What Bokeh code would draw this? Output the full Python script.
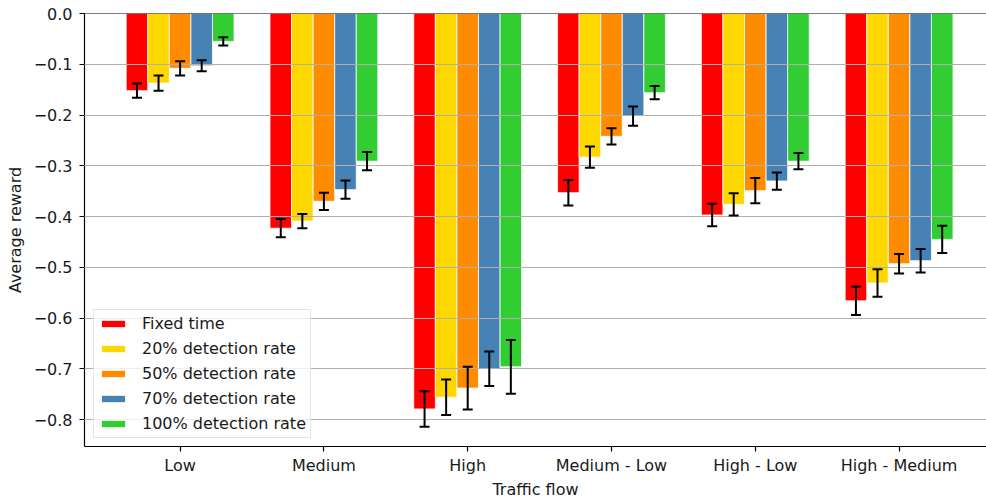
from bokeh.plotting import figure
from bokeh.models import (ColumnDataSource, Range1d, FixedTicker, CustomJSTickFormatter,
                          Whisker, TeeHead, Span, Legend, LegendItem)
from bokeh.embed import file_html
from bokeh.resources import INLINE

# Traffic-flow scenarios on the x axis
categories = ["Low", "Medium", "High", "Medium - Low", "High - Low", "High - Medium"]

# Controllers compared in each scenario
series_names = ["Fixed time", "20% detection rate", "50% detection rate",
                "70% detection rate", "100% detection rate"]
series_colors = ["#ff0000", "#ffd700", "#ff8c00", "#4682b4", "#32cd32"]

# Mean reward and its spread per controller
fixed_time = [-0.152, -0.423, -0.779, -0.353, -0.397, -0.566]
fixed_time_err = [0.014, 0.018, 0.035, 0.025, 0.022, 0.028]
det20 = [-0.137, -0.409, -0.756, -0.283, -0.376, -0.531]
det20_err = [0.015, 0.014, 0.035, 0.021, 0.022, 0.027]
det50 = [-0.108, -0.370, -0.738, -0.242, -0.349, -0.493]
det50_err = [0.014, 0.017, 0.042, 0.016, 0.025, 0.019]
det70 = [-0.103, -0.347, -0.700, -0.202, -0.330, -0.487]
det70_err = [0.011, 0.018, 0.034, 0.019, 0.017, 0.023]
det100 = [-0.055, -0.291, -0.696, -0.156, -0.291, -0.445]
det100_err = [0.008, 0.018, 0.053, 0.013, 0.016, 0.027]

y_ticks = [0.0, -0.1, -0.2, -0.3, -0.4, -0.5, -0.6, -0.7, -0.8]

means = [fixed_time, det20, det50, det70, det100]
errs = [fixed_time_err, det20_err, det50_err, det70_err, det100_err]

FONT = "DejaVu Sans"
BAR_W = 0.15

p = figure(width=986, height=501, output_backend="svg", toolbar_location=None,
           x_range=Range1d(-0.665, 5.608), y_range=Range1d(-0.853, 0.0),
           min_border_left=84, min_border_right=0, min_border_top=13,
           min_border_bottom=55)
p.background_fill_color = "white"
p.border_fill_color = "white"
p.outline_line_color = None

# horizontal grid drawn over the bars
p.xgrid.visible = False
p.ygrid.grid_line_color = "#b0b0b0"
p.ygrid.grid_line_width = 1.1
p.ygrid.level = "guide"

legend_items = []
for i, (name, color, vals, err) in enumerate(zip(series_names, series_colors, means, errs)):
    xs = [k + (i - 2) * BAR_W for k in range(len(categories))]
    src = ColumnDataSource(dict(
        x=xs, top=vals,
        upper=[v + e for v, e in zip(vals, err)],
        lower=[v - e for v, e in zip(vals, err)],
    ))
    r = p.vbar(x="x", top="top", bottom=0, width=BAR_W, source=src,
               fill_color=color, line_color="white", line_width=0.8)
    legend_items.append(LegendItem(label=name, renderers=[r]))
    w = Whisker(source=src, base="x", upper="upper", lower="lower",
                line_color="black", line_width=2,
                upper_head=TeeHead(size=10, line_color="black", line_width=2),
                lower_head=TeeHead(size=10, line_color="black", line_width=2),
                level="annotation")
    p.add_layout(w)

# top spine
p.add_layout(Span(location=0, dimension="width", line_color="black", line_width=1.2))

# x axis
xa = p.xaxis[0]
xa.ticker = FixedTicker(ticks=list(range(len(categories))))
xa.major_label_overrides = {k: c for k, c in enumerate(categories)}
xa.axis_label = "Traffic flow"
# y axis
ya = p.yaxis[0]
ya.ticker = FixedTicker(ticks=y_ticks)
ya.formatter = CustomJSTickFormatter(code="return tick.toFixed(1).replace('-', '\u2212');")
ya.axis_label = "Average reward"

for ax in (xa, ya):
    ax.axis_line_color = "black"
    ax.axis_line_width = 1.2
    ax.major_tick_line_color = "black"
    ax.major_tick_line_width = 1.2
    ax.major_tick_out = 5
    ax.major_tick_in = 0
    ax.minor_tick_line_color = None
    ax.major_label_text_font = FONT
    ax.major_label_text_font_size = "16px"
    ax.major_label_text_color = "#1a1a1a"
    ax.axis_label_text_font = FONT
    ax.axis_label_text_font_size = "16px"
    ax.axis_label_text_font_style = "normal"
    ax.axis_label_text_color = "#1a1a1a"

xa.major_label_standoff = 4
xa.axis_label_standoff = 2
ya.major_label_standoff = 7
ya.axis_label_standoff = 6

legend = Legend(items=legend_items, location=(9, 8), margin=0,
                padding=4, spacing=6, label_height=15, glyph_height=9,
                glyph_width=30, label_standoff=14,
                label_text_font=FONT, label_text_font_size="16px",
                label_text_color="#1a1a1a",
                background_fill_color="white", background_fill_alpha=0.8,
                border_line_color="#cccccc", border_line_width=1)
p.add_layout(legend)

open("out.html", "w").write(file_html(p, INLINE))
